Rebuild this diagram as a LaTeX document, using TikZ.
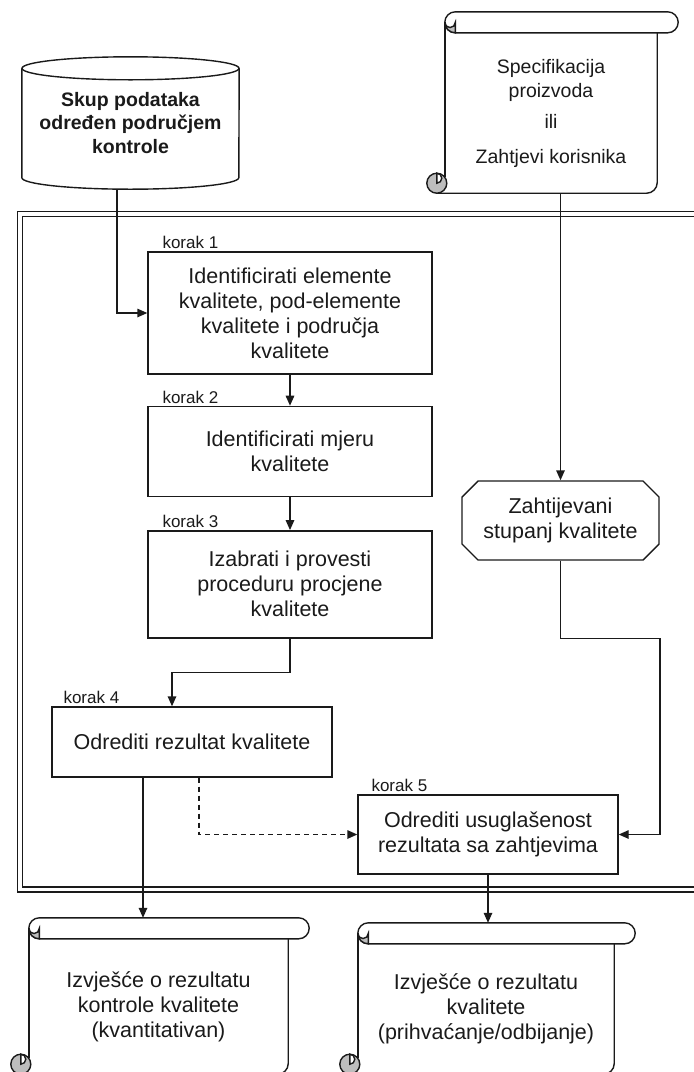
\documentclass[tikz,border=0pt]{standalone}
\usepackage{fontspec}
\setmainfont{Liberation Sans}
\usetikzlibrary{arrows.meta, positioning, shapes.misc}
\definecolor{LineBlack}{HTML}{1A1A1A}
\definecolor{CurlGray}{HTML}{BDBDBD}

% scroll drawn round a node that holds the body below the roll
\newcommand{\drawscroll}[1]{%
  \coordinate (#1-top) at ([yshift=21pt]#1.north);
  \draw[outline, rounded corners=10.5pt] ([yshift=21pt]#1.north west) rectangle ([xshift=21pt]#1.north east);
  \filldraw[outline, fill=CurlGray] ([xshift=10.5pt]#1.north west) arc[start angle=270, end angle=180, radius=10.5pt]
    arc[start angle=180, end angle=360, radius=5.25pt] -- cycle;
  \draw[outline] ([yshift=10.5pt]#1.north west) -- ([yshift=16pt]#1.south west);
  \draw[outline] ([xshift=-8pt]#1.south west) -- ([xshift=-10.5pt]#1.south east)
    arc[start angle=270, end angle=360, radius=10.5pt] -- (#1.north east);
  \filldraw[outline, fill=CurlGray] ([xshift=-8pt, yshift=10pt]#1.south west) circle[radius=10pt];
  \filldraw[outline, fill=white] ([xshift=-8pt, yshift=20pt]#1.south west) arc[start angle=90, end angle=-90, radius=5pt] -- cycle;
}

\begin{document}
\begin{tikzpicture}[x=1pt, y=-1pt,
  every node/.style={font=\fontsize{21.5}{25}\selectfont, text=LineBlack},
  outline/.style={draw=LineBlack, line width=1.4pt},
  stepbox/.style={rectangle, draw=LineBlack, line width=1.4pt, align=center,
                  minimum width=284pt, inner sep=4pt},
  reqbox/.style={chamfered rectangle, chamfered rectangle sep=8pt, draw=LineBlack,
                 line width=1.4pt, align=center, minimum width=197pt, minimum height=79pt},
  scrollbody/.style={rectangle, align=center, inner sep=2pt},
  drum/.style={rectangle, align=center, font=\fontsize{19.5}{23.5}\selectfont\bfseries,
               minimum width=217pt, minimum height=132pt},
  korak/.style={font=\fontsize{17}{20}\selectfont, inner sep=0pt},
  arr/.style={-{Triangle[length=10pt, width=8.5pt]}, draw=LineBlack, line width=1.4pt},
  outerframe/.style={draw=LineBlack, line width=1.3pt, double, double distance=3.6pt}
]
\useasboundingbox (0,0) rectangle (694,1072);

% Frame
\draw[outerframe] (20,214) rectangle (697,889.5);

% Inputs
\node[drum] (data) at (130.5,123) {Skup podataka\\određen područjem\\kontrole};
\draw[outline] ([yshift=-11.5pt]data.north west) -- ([yshift=11.5pt]data.south west)
  arc[start angle=180, end angle=360, x radius=108.5pt, y radius=11.5pt] -- ([yshift=-11.5pt]data.north east);
\draw[outline] ([yshift=-11.5pt]data.north) ellipse[x radius=108.5pt, y radius=11.5pt];

\node[scrollbody, font=\fontsize{19.5}{24}\selectfont, minimum width=212pt, minimum height=160pt] (spec) at (551,113)
  {Specifikacija\\proizvoda\\[7pt]ili\\[11pt]Zahtjevi korisnika};
\drawscroll{spec}

% Steps
\node[stepbox, minimum height=122pt] (step1) at (290,313) {Identificirati elemente\\kvalitete, pod-elemente\\kvalitete i područja\\kvalitete};
\node[stepbox, minimum height=90pt, below=31pt of step1] (step2) {Identificirati mjeru\\kvalitete};
\node[stepbox, minimum height=107pt, below=33pt of step2] (step3) {Izabrati i provesti\\proceduru procjene\\kvalitete};
\node[stepbox, minimum width=280pt, minimum height=70pt] (step4) at (192,742) {Odrediti rezultat kvalitete};
\node[stepbox, minimum width=260pt, minimum height=79pt] (step5) at (488,834.5) {Odrediti usuglašenost\\rezultata sa zahtjevima};

\node[korak, above right=2pt and 15pt of step1.north west] (k1) {korak 1};
\node[korak, above right=2pt and 15pt of step2.north west] (k2) {korak 2};
\node[korak, above right=2pt and 15pt of step3.north west] (k3) {korak 3};
\node[korak, above right=2pt and 12pt of step4.north west] (k4) {korak 4};
\node[korak, above right=2pt and 14pt of step5.north west] (k5) {korak 5};

\node[reqbox] (req) at (560.5,520.5) {Zahtijevani\\stupanj kvalitete};

% Outputs
\node[scrollbody, minimum width=259pt, minimum height=135pt] (qnrep) at (158.5,1006.5)
  {Izvješće o rezultatu\\kontrole kvalitete\\(kvantitativan)};
\drawscroll{qnrep}
\node[scrollbody, minimum width=256pt, minimum height=130pt] (okrep) at (486,1009)
  {Izvješće o rezultatu\\kvalitete\\(prihvaćanje/odbijanje)};
\drawscroll{okrep}

% Arrows
\draw[arr] ([xshift=-13.5pt]data.south) |- (step1.west);
\draw[arr] (req.north |- spec.south) -- (req.north);
\draw[arr] (step1) -- (step2);
\draw[arr] (step2) -- (step3);
\draw[arr] (step3.south) -- ++(0,34) -| ([xshift=-20pt]step4.north);
\draw[arr, dash pattern=on 5pt off 4pt] ([xshift=7pt]step4.south) |- (step5.west);
\draw[arr] (req.south) -- ++(0,78) -- ++(99.5,0) |- (step5.east);
\draw[arr] ([xshift=-49pt]step4.south) -- ([xshift=-15.5pt]qnrep-top);
\draw[arr] (step5.south) -- (step5.south |- okrep-top);

\end{tikzpicture}
\end{document}
